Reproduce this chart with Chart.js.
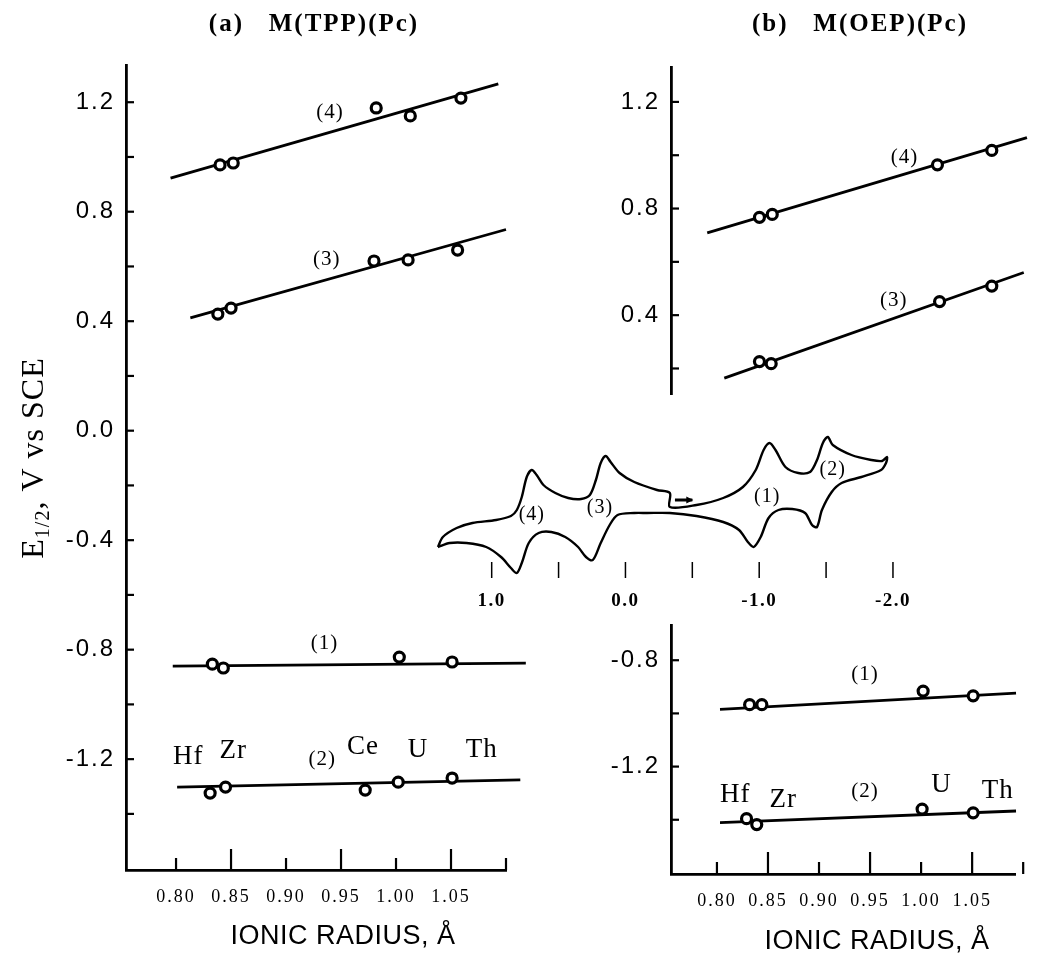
<!DOCTYPE html>
<html>
<head>
<meta charset="utf-8">
<title>E1/2 vs ionic radius</title>
<script src="https://cdn.jsdelivr.net/npm/chart.js@4.4.1/dist/chart.umd.min.js"></script>
<style>
  html, body { margin: 0; padding: 0; background: #fff; }
  body { position: relative; width: 1039px; height: 958px; overflow: hidden; }
  canvas { position: absolute; }
</style>
</head>
<body>
<canvas id="chartA" width="540" height="958" style="left:0;top:0"></canvas>
<canvas id="chartBTop" width="479" height="420" style="left:560px;top:0"></canvas>
<canvas id="chartBBottom" width="479" height="358" style="left:560px;top:600px"></canvas>
<canvas id="chartCV" width="500" height="200" style="left:420px;top:420px"></canvas>
<script>
// axis ticks
const radiusTicks = [0.80, 0.85, 0.90, 0.95, 1.00, 1.05, 1.10];
const radiusLabels = ['0.80', '0.85', '0.90', '0.95', '1.00', '1.05', ''];
const radiusLongTicks = [0.85, 0.95, 1.05];
const potentialTicksA = [1.2, 1.0, 0.8, 0.6, 0.4, 0.2, 0.0, -0.2, -0.4, -0.6, -0.8, -1.0, -1.2, -1.4];
const potentialTicksBTop = [1.2, 1.0, 0.8, 0.6, 0.4, 0.2];
const potentialTicksBBottom = [-0.8, -1.0, -1.2, -1.4];
const potentialLabels = ['1.2', '0.8', '0.4', '0.0', '-0.4', '-0.8', '-1.2'];
const cvTicks = [1.0, 0.5, 0.0, -0.5, -1.0, -1.5, -2.0];
const cvLabels = ['1.0', '', '0.0', '', '-1.0', '', '-2.0'];

// (a) M(TPP)(Pc): [ionic radius, E1/2]
const tppWave4 = [[0.840, 0.971], [0.852, 0.978], [0.982, 1.179], [1.013, 1.150], [1.059, 1.215]];
const tppWave3 = [[0.838, 0.426], [0.850, 0.448], [0.980, 0.620], [1.011, 0.624], [1.056, 0.660]];
const tppWave1 = [[0.833, -0.853], [0.843, -0.867], [1.003, -0.827], [1.051, -0.845]];
const tppWave2 = [[0.831, -1.324], [0.845, -1.302], [0.972, -1.313], [1.002, -1.284], [1.051, -1.269]];
const tppFit4 = [[0.795, 0.923], [1.093, 1.267]];
const tppFit3 = [[0.813, 0.412], [1.100, 0.735]];
const tppFit1 = [[0.797, -0.860], [1.118, -0.849]];
const tppFit2 = [[0.801, -1.302], [1.113, -1.276]];

// (b) M(OEP)(Pc)
const oepWave4 = [[0.838, 0.767], [0.850, 0.778], [1.005, 0.964], [1.056, 1.018]];
const oepWave3 = [[0.838, 0.226], [0.849, 0.218], [1.007, 0.451], [1.056, 0.509]];
const oepWave1 = [[0.832, -0.967], [0.844, -0.967], [1.002, -0.916], [1.051, -0.934]];
const oepWave2 = [[0.829, -1.396], [0.839, -1.418], [1.001, -1.360], [1.051, -1.374]];
const oepFit4 = [[0.789, 0.709], [1.089, 1.066]];
const oepFit3 = [[0.805, 0.164], [1.086, 0.560]];
const oepFit1 = [[0.803, -0.985], [1.093, -0.924]];
const oepFit2 = [[0.803, -1.411], [1.093, -1.367]];

const elements = ['Hf', 'Zr', 'Ce', 'U', 'Th'];
const waveNames = ['(1)', '(2)', '(3)', '(4)'];

// inset cyclic voltammogram: [E / V, current, arb. units]
const cvCurve = [
  [1.402, -3.4], [1.365, -2.4], [1.262, -1.5], [1.144, -1.0], [0.967, -0.7], [0.856, -0.3],
  [0.812, 0.3], [0.775, 1.6], [0.738, 3.6], [0.701, 4.3], [0.664, 3.8], [0.613, 2.8],
  [0.524, 2.0], [0.428, 1.5], [0.332, 1.4], [0.266, 1.8], [0.221, 3.3], [0.185, 5.0],
  [0.148, 5.7], [0.111, 5.1], [0.044, 4.0], [-0.066, 3.1], [-0.236, 2.3], [-0.332, 2.0],
  [-0.332, 0.6], [-0.531, 0.8], [-0.731, 1.5], [-0.878, 2.6], [-0.974, 4.3], [-1.033, 6.3],
  [-1.077, 7.0], [-1.122, 6.3], [-1.196, 4.6], [-1.292, 4.0], [-1.380, 4.1], [-1.432, 5.3],
  [-1.476, 7.0], [-1.513, 7.6], [-1.550, 6.8], [-1.690, 5.8], [-1.838, 5.3], [-1.919, 5.2],
  [-1.956, 5.6], [-1.948, 5.0], [-1.911, 4.3], [-1.764, 3.6], [-1.616, 3.0], [-1.542, 2.1],
  [-1.469, 0.3], [-1.432, -1.4], [-1.395, -1.2], [-1.343, 0.0], [-1.247, 0.4], [-1.144, 0.3],
  [-1.070, -0.5], [-1.011, -2.4], [-0.959, -3.4], [-0.915, -2.9], [-0.849, -1.7], [-0.731, -0.9],
  [-0.531, -0.3], [-0.332, 0.0], [-0.162, 0.0], [-0.066, 0.0], [0.059, -0.2], [0.118, -1.2],
  [0.185, -3.0], [0.244, -4.7], [0.295, -4.4], [0.354, -3.4], [0.450, -2.4], [0.554, -1.9],
  [0.649, -2.0], [0.723, -3.0], [0.775, -5.0], [0.812, -6.0], [0.856, -5.5], [0.930, -4.4],
  [1.041, -3.4], [1.188, -3.0], [1.314, -3.0], [1.402, -3.4]
];

const SERIF = 'Liberation Serif';
const SANS = 'Liberation Sans';

Chart.defaults.font.family = SANS;
Chart.defaults.color = '#000';

// small inward tick marks drawn on the library's scales
const tickMarks = {
  id: 'tickMarks',
  afterDraw(chart, args, opts) {
    const {ctx, chartArea, scales} = chart;
    ctx.save();
    ctx.strokeStyle = '#000';
    ctx.lineWidth = opts.width || 2;
    if (opts.yLen) {
      scales.y.ticks.forEach(t => {
        const py = scales.y.getPixelForValue(t.value);
        ctx.beginPath();
        ctx.moveTo(chartArea.left, py);
        ctx.lineTo(chartArea.left + opts.yLen, py);
        ctx.stroke();
      });
    }
    if (opts.xLen) {
      scales.x.ticks.forEach(t => {
        const px = scales.x.getPixelForValue(t.value);
        const long = (opts.xLong || []).some(v => Math.abs(v - t.value) < 1e-6);
        ctx.beginPath();
        ctx.moveTo(px, chartArea.bottom);
        ctx.lineTo(px, chartArea.bottom - (long ? opts.xLongLen : opts.xLen));
        ctx.stroke();
      });
    }
    ctx.restore();
  }
};

// titles and labels
const figureText = {
  id: 'figureText',
  beforeDraw(chart, args, opts) {
    chart.ctx.letterSpacing = opts.spacing || '0px';
  },
  afterDraw(chart, args, opts) {
    const ctx = chart.ctx;
    const {x: sx, y: sy} = chart.scales;
    ctx.save();
    ctx.fillStyle = '#000';
    ctx.strokeStyle = '#000';
    ctx.textAlign = 'center';
    ctx.textBaseline = 'middle';
    (opts.items || []).forEach(it => {
      ctx.font = it.font;
      ctx.letterSpacing = it.spacing || '1px';
      let px = it.px, py = it.py;
      if (it.x !== undefined) {
        px = sx.getPixelForValue(it.x);
        py = sy.getPixelForValue(it.y);
      }
      ctx.fillText(it.text, px, py);
    });
    (opts.arrows || []).forEach(a => {
      const x1 = sx.getPixelForValue(a.from[0]), y1 = sy.getPixelForValue(a.from[1]);
      const x2 = sx.getPixelForValue(a.to[0]), y2 = sy.getPixelForValue(a.to[1]);
      ctx.lineWidth = 3;
      ctx.beginPath();
      ctx.moveTo(x1, y1);
      ctx.lineTo(x2, y2);
      ctx.stroke();
      ctx.beginPath();
      ctx.moveTo(x2 + 1, y2);
      ctx.lineTo(x2 - 6, y2 - 3.5);
      ctx.lineTo(x2 - 6, y2 + 3.5);
      ctx.closePath();
      ctx.fill();
    });
    if (opts.yTitle) {
      const t = opts.yTitle;
      ctx.translate(t.px, t.py);
      ctx.rotate(-Math.PI / 2);
      ctx.textAlign = 'left';
      ctx.textBaseline = 'alphabetic';
      ctx.letterSpacing = t.spacing;
      let total = 0;
      t.parts.forEach(p => { ctx.font = p.font; total += ctx.measureText(p.text).width; });
      let x = -total / 2;
      t.parts.forEach(p => {
        ctx.font = p.font;
        ctx.fillText(p.text, x, p.dy);
        x += ctx.measureText(p.text).width;
      });
    }
    ctx.restore();
  }
};

function pts(arr) {
  return arr.map(([x, y]) => ({x, y}));
}

function markers(arr) {
  return {
    data: pts(arr), showLine: false, order: 0,
    pointRadius: 5, pointBorderWidth: 3.2, pointBackgroundColor: '#fff', pointBorderColor: '#000'
  };
}

function fitLine(arr) {
  return {
    data: pts(arr), showLine: true, order: 1, clip: false,
    pointRadius: 0, borderColor: '#000', borderWidth: 2.8
  };
}

function radiusAxis(min, max, height, show) {
  return {
    type: 'linear', min: min, max: max, display: show,
    afterBuildTicks: s => { s.ticks = radiusTicks.map(v => ({value: v})); },
    afterFit: s => { s.height = height; },
    grid: {display: true, drawOnChartArea: false, drawTicks: false},
    border: {display: true, color: '#000', width: 2.8},
    ticks: {
      padding: 16, autoSkip: false, maxRotation: 0, color: '#000',
      font: {family: SERIF, size: 18},
      callback: v => {
        const i = radiusTicks.findIndex(t => Math.abs(t - v) < 1e-6);
        return i >= 0 ? radiusLabels[i] : '';
      }
    }
  };
}

function potentialAxis(min, max, tickList, width) {
  return {
    type: 'linear', min: min, max: max,
    afterBuildTicks: s => { s.ticks = tickList.map(v => ({value: v})); },
    afterFit: s => { s.width = width; },
    grid: {display: true, drawOnChartArea: false, drawTicks: false},
    border: {display: true, color: '#000', width: 2.8},
    ticks: {
      padding: 11, autoSkip: false, color: '#000',
      font: {family: SANS, size: 24},
      callback: v => {
        const s = v.toFixed(1);
        return potentialLabels.includes(s) ? s : '';
      }
    }
  };
}

const baseOptions = {
  responsive: false, animation: false, devicePixelRatio: 1, events: []
};
const quiet = {legend: {display: false}, tooltip: {enabled: false}};
const seriesFont = `21px "${SERIF}"`;
const elementFont = `27px "${SERIF}"`;
const titleFont = `bold 25px "${SERIF}"`;
const axisTitleFont = `27px "${SANS}"`;

// (a) M(TPP)(Pc)
new Chart(document.getElementById('chartA'), {
  type: 'scatter',
  data: {
    datasets: [
      markers(tppWave4), markers(tppWave3), markers(tppWave1), markers(tppWave2),
      fitLine(tppFit4), fitLine(tppFit3), fitLine(tppFit1), fitLine(tppFit2)
    ]
  },
  options: {
    ...baseOptions,
    layout: {padding: {left: 0, right: 34, top: 65, bottom: 0}},
    scales: {
      x: radiusAxis(0.7545, 1.10, 88, true),
      y: potentialAxis(-1.605, 1.336, potentialTicksA, 126)
    },
    plugins: {
      ...quiet,
      tickMarks: {yLen: 8, xLen: 12, xLongLen: 21, xLong: radiusLongTicks, width: 2.2},
      figureText: {
        spacing: '2px',
        items: [
          {text: '(a)   M(TPP)(Pc)', px: 314, py: 25, font: titleFont, spacing: '2px'},
          {text: 'IONIC RADIUS, Å', px: 343, py: 937, font: axisTitleFont, spacing: '0.5px'},
          {text: waveNames[3], x: 0.940, y: 1.161, font: seriesFont},
          {text: waveNames[2], x: 0.937, y: 0.624, font: seriesFont},
          {text: waveNames[0], x: 0.935, y: -0.776, font: seriesFont},
          {text: waveNames[1], x: 0.933, y: -1.203, font: seriesFont},
          {text: elements[0], x: 0.811, y: -1.192, font: elementFont},
          {text: elements[1], x: 0.852, y: -1.170, font: elementFont},
          {text: elements[2], x: 0.970, y: -1.156, font: elementFont},
          {text: elements[3], x: 1.020, y: -1.167, font: elementFont},
          {text: elements[4], x: 1.078, y: -1.167, font: elementFont}
        ],
        yTitle: {
          px: 32, py: 458, spacing: '1px',
          parts: [
            {text: 'E', font: `32px "${SERIF}"`, dy: 11},
            {text: '1/2', font: `20px "${SERIF}"`, dy: 17},
            {text: ', V vs SCE', font: `32px "${SERIF}"`, dy: 11}
          ]
        }
      }
    }
  },
  plugins: [tickMarks, figureText]
});

// (b) M(OEP)(Pc), upper part
new Chart(document.getElementById('chartBTop'), {
  type: 'scatter',
  data: {
    datasets: [markers(oepWave4), markers(oepWave3), fitLine(oepFit4), fitLine(oepFit3)]
  },
  options: {
    ...baseOptions,
    layout: {padding: {left: 0, right: 0, top: 67, bottom: 15}},
    scales: {
      x: radiusAxis(0.755, 1.0926, 0, false),
      y: potentialAxis(0.102, 1.331, potentialTicksBTop, 111)
    },
    plugins: {
      ...quiet,
      tickMarks: {yLen: 8, width: 2.2},
      figureText: {
        spacing: '2px',
        items: [
          {text: '(b)   M(OEP)(Pc)', px: 300, py: 25, font: titleFont, spacing: '2px'},
          {text: waveNames[3], x: 0.974, y: 0.993, font: seriesFont},
          {text: waveNames[2], x: 0.964, y: 0.455, font: seriesFont}
        ]
      }
    }
  },
  plugins: [tickMarks, figureText]
});

// (b) M(OEP)(Pc), lower part
new Chart(document.getElementById('chartBBottom'), {
  type: 'scatter',
  data: {
    datasets: [markers(oepWave1), markers(oepWave2), fitLine(oepFit1), fitLine(oepFit2)]
  },
  options: {
    ...baseOptions,
    layout: {padding: {left: 0, right: 0, top: 17, bottom: 0}},
    scales: {
      x: radiusAxis(0.755, 1.0926, 84, true),
      y: potentialAxis(-1.604, -0.669, potentialTicksBBottom, 111)
    },
    plugins: {
      ...quiet,
      tickMarks: {yLen: 8, xLen: 12, xLongLen: 22, xLong: radiusLongTicks, width: 2.2},
      figureText: {
        spacing: '2px',
        items: [
          {text: 'IONIC RADIUS, Å', px: 317, py: 342, font: axisTitleFont, spacing: '0.5px'},
          {text: waveNames[0], x: 0.945, y: -0.854, font: seriesFont},
          {text: waveNames[1], x: 0.945, y: -1.294, font: seriesFont},
          {text: elements[0], x: 0.818, y: -1.305, font: elementFont},
          {text: elements[1], x: 0.865, y: -1.324, font: elementFont},
          {text: elements[3], x: 1.020, y: -1.269, font: elementFont},
          {text: elements[4], x: 1.075, y: -1.291, font: elementFont}
        ]
      }
    }
  },
  plugins: [tickMarks, figureText]
});

// inset CV
new Chart(document.getElementById('chartCV'), {
  type: 'scatter',
  data: {
    datasets: [{
      data: pts(cvCurve), showLine: true, pointRadius: 0, clip: false,
      borderColor: '#000', borderWidth: 2.4, tension: 0.3
    }]
  },
  options: {
    ...baseOptions,
    layout: {padding: {left: 11.5, right: 21, top: 10, bottom: 0}},
    scales: {
      x: {
        type: 'linear', reverse: true, min: -2.0, max: 1.45,
        afterBuildTicks: s => { s.ticks = cvTicks.map(v => ({value: v})); },
        afterFit: s => { s.height = 42; },
        grid: {display: true, drawOnChartArea: false, drawTicks: false},
        border: {display: false},
        ticks: {
          padding: 12, autoSkip: false, maxRotation: 0, color: '#000',
          font: {family: SERIF, size: 19, weight: 'bold'},
          callback: v => {
            const i = cvTicks.findIndex(t => Math.abs(t - v) < 1e-6);
            return i >= 0 ? cvLabels[i] : '';
          }
        }
      },
      y: {type: 'linear', display: false, min: -6.5, max: 8.3}
    },
    plugins: {
      ...quiet,
      tickMarks: {xLen: 16, width: 1.5},
      figureText: {
        spacing: '1.5px',
        items: [
          {text: waveNames[3], x: 0.70, y: -0.2, font: `20px "${SERIF}"`},
          {text: waveNames[2], x: 0.19, y: 0.5, font: `20px "${SERIF}"`},
          {text: waveNames[0], x: -1.06, y: 1.6, font: `20px "${SERIF}"`},
          {text: waveNames[1], x: -1.55, y: 4.3, font: `20px "${SERIF}"`}
        ],
        arrows: [{from: [-0.37, 1.3], to: [-0.50, 1.3]}]
      }
    }
  },
  plugins: [tickMarks, figureText]
});
</script>
</body>
</html>
